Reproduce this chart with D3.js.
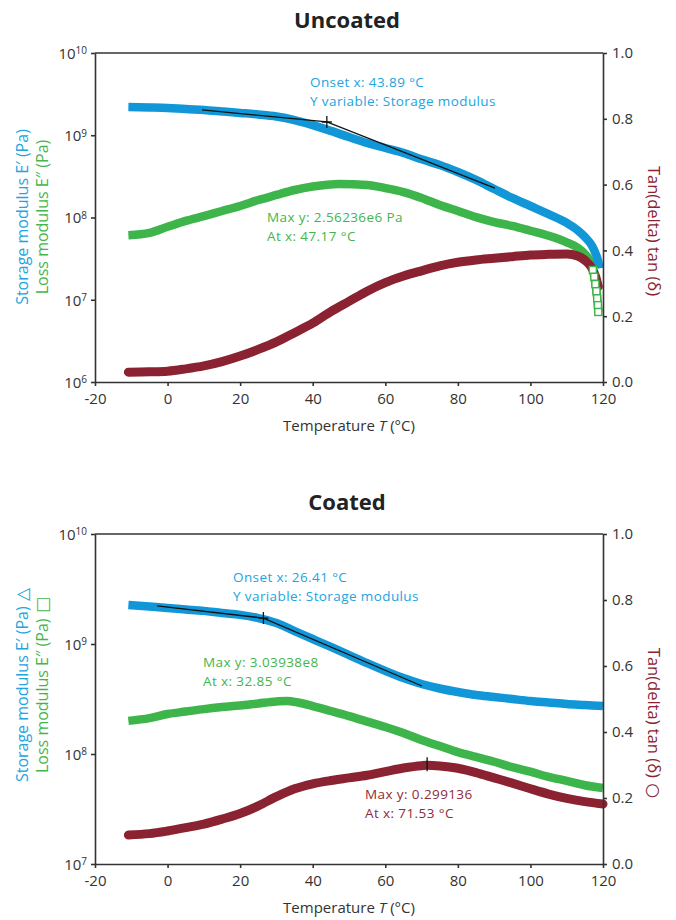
<!DOCTYPE html>
<meta charset="utf-8">
<style>
    body { margin: 0; background: #fff; }
    svg { font-family: "Open Sans", Lato, sans-serif; }
    .axis path, .axis line { stroke: #333; stroke-width: 1.6; }
    .axis text { fill: #333; }
</style>
<body>
<script src="https://cdn.jsdelivr.net/npm/d3@7/dist/d3.min.js"></script>
<script>

    var width = 676,
        height = 920,
        left = 95,
        right = 603;

    var blue = "#1197d8", green = "#3db54a", red = "#8a2231";
    var font = "'Open Sans', Lato, sans-serif";

    var xTicks = [-20, 0, 20, 40, 60, 80, 100, 120];
    var tanTicks = [0, 0.2, 0.4, 0.6, 0.8, 1.0];
    var uncoatedExps = [6, 7, 8, 9, 10];
    var coatedExps = [7, 8, 9, 10];

    // [temperature °C, value]
    var uncoatedStorage = [[-10.8, 2.20e9], [-5, 2.18e9], [0, 2.15e9], [5, 2.08e9], [10, 2.03e9], [15, 1.95e9],
        [20, 1.87e9], [25, 1.79e9], [30, 1.69e9], [35, 1.53e9], [40, 1.33e9], [45, 1.13e9], [50, 9.5e8],
        [55, 8.05e8], [60, 7.0e8], [65, 6.1e8], [70, 5.1e8], [75, 4.35e8], [80, 3.57e8], [85, 2.86e8],
        [90, 2.22e8], [95, 1.73e8], [100, 1.38e8], [105, 1.10e8], [110, 8.6e7], [113, 7.0e7], [115, 5.8e7],
        [117, 4.5e7], [118, 3.6e7], [118.7, 2.9e7], [119, 2.4e7]];
    var uncoatedLoss = [[-10.8, 6.1e7], [-5, 6.5e7], [0, 7.7e7], [5, 9.1e7], [10, 1.04e8], [15, 1.20e8],
        [20, 1.38e8], [25, 1.63e8], [30, 1.88e8], [35, 2.16e8], [40, 2.38e8], [47.17, 2.56e8], [55, 2.49e8],
        [60, 2.28e8], [65, 2.04e8], [70, 1.73e8], [75, 1.42e8], [80, 1.20e8], [85, 1.01e8], [90, 8.8e7],
        [95, 7.9e7], [100, 6.9e7], [105, 6.0e7], [110, 5.0e7], [113, 4.3e7], [115, 3.6e7], [116.5, 2.9e7],
        [117.2, 2.3e7], [117.6, 1.9e7], [117.9, 1.55e7], [118.2, 1.27e7], [118.4, 1.04e7], [118.6, 8.6e6],
        [118.7, 7.1e6]];
    var uncoatedTan = [[-10.8, 0.030], [-5, 0.031], [0, 0.033], [5, 0.040], [10, 0.049], [15, 0.062],
        [20, 0.079], [25, 0.099], [30, 0.122], [35, 0.150], [40, 0.179], [45, 0.214], [50, 0.245],
        [55, 0.276], [60, 0.302], [65, 0.322], [70, 0.338], [75, 0.353], [80, 0.364], [85, 0.371],
        [90, 0.376], [95, 0.381], [100, 0.386], [105, 0.388], [110, 0.389], [113, 0.383], [115, 0.370],
        [117, 0.345], [118, 0.320], [118.7, 0.290]];

    var coatedStorage = [[-10.8, 2.26e9], [-5, 2.19e9], [0, 2.12e9], [5, 2.06e9], [10, 2.0e9], [15, 1.91e9],
        [20, 1.84e9], [25, 1.72e9], [30, 1.55e9], [35, 1.31e9], [40, 1.11e9], [45, 9.4e8], [50, 7.94e8],
        [55, 6.7e8], [60, 5.7e8], [65, 4.9e8], [70, 4.33e8], [75, 3.94e8], [80, 3.66e8], [85, 3.44e8],
        [90, 3.30e8], [95, 3.16e8], [100, 3.03e8], [105, 2.94e8], [110, 2.85e8], [115, 2.79e8], [120, 2.73e8]];
    var coatedLoss = [[-10.8, 2.0e8], [-5, 2.12e8], [0, 2.31e8], [5, 2.43e8], [10, 2.56e8], [15, 2.67e8],
        [20, 2.76e8], [25, 2.88e8], [30, 3.0e8], [32.85, 3.04e8], [36, 2.94e8], [40, 2.73e8], [45, 2.46e8],
        [50, 2.21e8], [55, 1.97e8], [60, 1.76e8], [65, 1.55e8], [70, 1.34e8], [75, 1.18e8], [80, 1.04e8],
        [85, 9.4e7], [90, 8.5e7], [95, 7.6e7], [100, 6.9e7], [105, 6.2e7], [110, 5.7e7], [115, 5.2e7],
        [120, 4.9e7]];
    var coatedTan = [[-10.8, 0.088], [-5, 0.092], [0, 0.100], [5, 0.110], [10, 0.121], [15, 0.136],
        [20, 0.153], [25, 0.176], [30, 0.204], [35, 0.228], [40, 0.243], [45, 0.253], [50, 0.261],
        [55, 0.269], [60, 0.280], [65, 0.291], [70, 0.298], [71.53, 0.299], [75, 0.297], [80, 0.290],
        [85, 0.277], [90, 0.261], [95, 0.245], [100, 0.228], [105, 0.212], [110, 0.199], [115, 0.189],
        [120, 0.182]];

    // onset construction lines: start, onset, end
    var uncoatedOnset = [[9.5, 2.03e9], [43.89, 1.45e9], [90.2, 2.28e8]];
    var coatedOnset = [[-2.9, 2.22e9], [26.41, 1.72e9], [70.1, 4.15e8]];
    var coatedTanMax = [71.53, 0.299136];

    var svg = d3.select("body").append("svg")
        .attr("width", width)
        .attr("height", height);

    var x1 = d3.scaleLinear().domain([-20, 120]).range([left, right]);

    function drawPanel(p) {
        var y = d3.scaleLog().domain([Math.pow(10, p.exps[0]), 1e10]).range([p.bottom, p.top]);
        var yt = d3.scaleLinear().domain([0, 1]).range([p.bottom, p.top]);
        var g = svg.append("g");

        g.append("text")
            .attr("x", (left + right) / 2 - 2).attr("y", p.titleY)
            .attr("text-anchor", "middle")
            .style("font-size", "22px").style("font-weight", "bold").style("fill", "#222")
            .text(p.title);

        // top frame line
        g.append("line")
            .attr("x1", left).attr("x2", right).attr("y1", p.top).attr("y2", p.top)
            .style("stroke", "#333").style("stroke-width", 1.6);

        var line = d3.line()
            .x(function(d) { return x1(d[0]); })
            .curve(d3.curveMonotoneX);

        g.append("path").datum(p.loss)
            .attr("d", line.y(function(d) { return y(d[1]); }))
            .style("fill", "none").style("stroke", green).style("stroke-width", 8.5);
        g.append("path").datum(p.storage)
            .attr("d", line.y(function(d) { return y(d[1]); }))
            .style("fill", "none").style("stroke", blue).style("stroke-width", 8.5);
        g.append("path").datum(p.tan)
            .attr("d", line.y(function(d) { return yt(d[1]); }))
            .style("fill", "none").style("stroke", red).style("stroke-width", 9)
            .style("stroke-linecap", "round");

        // hollow squares where the loss curve drops steeply
        if (p.squaresFrom) {
            g.selectAll("rect.sq")
                .data(p.loss.filter(function(d) { return d[0] > p.squaresFrom; }))
                .enter().append("rect")
                .attr("x", function(d) { return x1(d[0]) - 3.5; })
                .attr("y", function(d) { return y(d[1]) - 3.5; })
                .attr("width", 7).attr("height", 7)
                .style("fill", "#fff").style("stroke", green).style("stroke-width", 1.4);
        }

        // onset construction
        g.append("path").datum(p.onset)
            .attr("d", d3.line().x(function(d) { return x1(d[0]); }).y(function(d) { return y(d[1]); }))
            .style("fill", "none").style("stroke", "#111").style("stroke-width", 1.3);
        var o = p.onset[1];
        g.append("path")
            .attr("d", "M" + (x1(o[0]) - 5) + "," + y(o[1]) + "h10M" + x1(o[0]) + "," + (y(o[1]) - 6) + "v12")
            .style("stroke", "#111").style("stroke-width", 1.3);

        if (p.tanMax) {
            g.append("line")
                .attr("x1", x1(p.tanMax[0])).attr("x2", x1(p.tanMax[0]))
                .attr("y1", yt(p.tanMax[1]) - 8).attr("y2", yt(p.tanMax[1]) + 6)
                .style("stroke", "#111").style("stroke-width", 1.3);
        }

        // axes
        var ax = g.append("g").attr("class", "axis")
            .attr("transform", "translate(0," + p.bottom + ")")
            .call(d3.axisBottom(x1).tickValues(xTicks).tickSize(4).tickSizeOuter(0).tickPadding(7)
                .tickFormat(function(d) { return String(d); }));
        ax.selectAll("text").style("font-size", "15px").style("font-family", font);

        var ay = g.append("g").attr("class", "axis")
            .attr("transform", "translate(" + left + ",0)")
            .call(d3.axisLeft(y).tickValues(p.exps.map(function(e) { return Math.pow(10, e); }))
                .tickSize(4).tickSizeOuter(0).tickFormat(""));
        ay.selectAll(".tick").each(function(d) {
            var t = d3.select(this).append("text")
                .attr("x", -8).attr("dy", "0.35em").attr("text-anchor", "end")
                .style("font-size", "15px").style("font-family", font).style("fill", "#333");
            t.append("tspan").text("10");
            t.append("tspan").attr("dy", "-0.45em").style("font-size", "10px")
                .text(Math.round(Math.log10(d)));
        });

        var ar = g.append("g").attr("class", "axis")
            .attr("transform", "translate(" + right + ",0)")
            .call(d3.axisRight(yt).tickValues(tanTicks).tickSize(4).tickSizeOuter(0).tickPadding(5)
                .tickFormat(d3.format(".1f")));
        ar.selectAll("text").style("font-size", "15px").style("font-family", font);

        // axis titles
        var xt = g.append("text")
            .attr("x", (left + right) / 2).attr("y", p.bottom + 49)
            .attr("text-anchor", "middle")
            .style("font-size", "15px").style("fill", "#333");
        xt.append("tspan").text("Temperature ");
        xt.append("tspan").style("font-style", "italic").text("T");
        xt.append("tspan").text(" (°C)");

        function sideLabel(tx, ty, rot, size, color, txt, sym) {
            var t = g.append("text")
                .attr("transform", "translate(" + tx + "," + ty + ") rotate(" + rot + ")")
                .attr("text-anchor", "middle").attr("dy", "0.35em")
                .style("font-size", size + "px").style("fill", color);
            t.append("tspan").text(txt);
            if (sym) t.append("tspan").style("font-family", "'DejaVu Sans'").style("font-size", "17px").text(" " + sym);
        }
        sideLabel(22, p.leftLabelY, -90, 16, "#22a4e0", "Storage modulus E′ (Pa)", p.sym[0]);
        sideLabel(42, p.leftLabelY, -90, 16, "#44b54c", "Loss modulus E″ (Pa)", p.sym[1]);
        sideLabel(654, p.rightLabelY, 90, 16.5, red, "Tan(delta) tan (δ)", p.sym[2]);

        p.notes.forEach(function(n) {
            n.lines.forEach(function(s, i) {
                g.append("text")
                    .attr("x", n.x).attr("y", n.y + i * 18.5)
                    .style("font-size", "13.5px").style("letter-spacing", "0.4px")
                    .style("fill", n.color)
                    .text(s);
            });
        });
    }

    drawPanel({
        title: "Uncoated", titleY: 28, top: 53, bottom: 382, exps: uncoatedExps,
        storage: uncoatedStorage, loss: uncoatedLoss, tan: uncoatedTan, onset: uncoatedOnset,
        squaresFrom: 117,
        leftLabelY: 217, rightLabelY: 231, sym: ["", "", ""],
        notes: [
            {x: 310, y: 87, color: "#22a4e0", lines: ["Onset x: 43.89 °C", "Y variable: Storage modulus"]},
            {x: 267, y: 222, color: "#44b54c", lines: ["Max y: 2.56236e6 Pa", "At x: 47.17 °C"]}
        ]
    });

    drawPanel({
        title: "Coated", titleY: 510, top: 534, bottom: 864, exps: coatedExps,
        storage: coatedStorage, loss: coatedLoss, tan: coatedTan, onset: coatedOnset, tanMax: coatedTanMax,
        leftLabelY: 685, rightLabelY: 723, sym: ["△", "□", "○"],
        notes: [
            {x: 233, y: 582, color: "#22a4e0", lines: ["Onset x: 26.41 °C", "Y variable: Storage modulus"]},
            {x: 203, y: 667, color: "#44b54c", lines: ["Max y: 3.03938e8", "At x: 32.85 °C"]},
            {x: 365, y: 799, color: "#8e2b3a", lines: ["Max y: 0.299136", "At x: 71.53 °C"]}
        ]
    });

</script>
